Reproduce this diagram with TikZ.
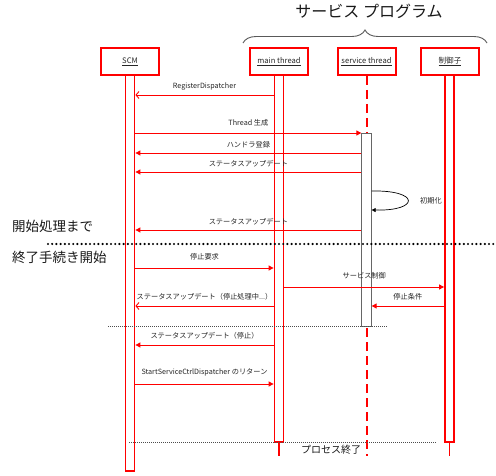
\documentclass[tikz,border=0pt]{standalone}
\usepackage{fontspec}
\setmainfont{Noto Sans CJK JP}
\usetikzlibrary{arrows.meta,calc,decorations.pathreplacing}
\begin{document}
\begin{tikzpicture}[x=1pt,y=-1pt,
  obj/.style={draw=red, line width=2pt, fill=white, minimum width=58pt, minimum height=27pt, inner sep=0pt, font=\fontsize{7.6}{8}\selectfont, text=black!85},
  bar/.style={draw=red, line width=1.8pt, fill=white, minimum width=9pt, inner sep=0pt},
  msg/.style={red, line width=0.9pt, -{Triangle[length=5pt,width=5pt]}},
  ret/.style={red, line width=0.9pt, -{Straight Barb[length=3pt,width=7pt]}},
  lbl/.style={font=\fontsize{7.2}{8}\selectfont, text=black!85, inner sep=0pt},
  big/.style={inner sep=0pt, text=black!90}]
\useasboundingbox (0,0) rectangle (496,476);
\fill[white] (0,0) rectangle (496,476);

% lifelines
\node[bar, minimum height=396pt] (scmb) at (130,273) {};
\node[bar, minimum height=367pt] (mtb) at (279,258.5) {};
\node[bar, minimum height=367pt] (ctlb) at (449.5,258.5) {};
\coordinate (mtend) at (279,456);
\coordinate (ctlend) at (449.5,456);
\draw[red, line width=1.5pt] (mtb.south) -- (mtend);
\draw[red, line width=1.5pt] (ctlb.south) -- (ctlend);

% header boxes
\node[obj] (scm) at (130,61.5) {\underline{SCM}};
\node[obj] (mt) at (279,61.5) {\underline{main thread}};
\node[obj] (st) at (366.5,61.5) {\underline{service thread}};
\node[obj] (ctl) at (450,61.5) {\underline{制御子}};

% service thread dashed lifeline and activation
\coordinate (stend) at (366.5,456);
\draw[red, line width=2pt, dash pattern=on 9pt off 5pt] (st.south) -- (stend);
\node[draw=black!60, line width=0.8pt, fill=white, minimum width=9.5pt, minimum height=193pt, inner sep=0pt] (sta) at (366.5,229.5) {};

% brace and title
\coordinate (brl) at (243,43);
\coordinate (brr) at (487,43);
\draw[black!65, line width=0.9pt, decorate, decoration={brace, amplitude=13pt}] (brl) -- (brr);
\node[big, font=\fontsize{16}{18}\selectfont] (title) at (369,11) {サービス プログラム};

% messages
\draw[ret] (mtb.west |- 0,95) -- node[lbl, above=4.5pt] {RegisterDispatcher} (scmb.east |- 0,95);
\draw[msg] (scmb.east |- 0,133) -- node[lbl, above=6pt] {Thread 生成} (sta.west |- 0,133);
\draw[msg] (sta.west |- 0,153) -- node[lbl, above=4.5pt] {ハンドラ登録} (scmb.east |- 0,153);
\draw[msg] (sta.west |- 0,172) -- node[lbl, above=4.5pt] {ステータスアップデート} (scmb.east |- 0,172);
\draw[black, line width=0.7pt, -{Triangle[length=4pt,width=4pt]}] (sta.east |- 0,191) .. controls (420,190) and (420,211) .. (sta.east |- 0,210);
\node[lbl] (init) at (431,201) {初期化};
\draw[msg] (sta.west |- 0,230) -- node[lbl, above=5pt] {ステータスアップデート} (scmb.east |- 0,230);

% phase separator
\coordinate (dl1) at (48,244);
\coordinate (dl2) at (496,244);
\draw[black, line width=2.4pt, line cap=round, dash pattern=on 0pt off 4.2pt] (dl1) -- (dl2);
\node[big, anchor=west, font=\fontsize{13.5}{16}\selectfont] (startphase) at (12,226) {開始処理まで};
\node[big, anchor=west, font=\fontsize{13.5}{16}\selectfont] (endphase) at (12,257) {終了手続き開始};

\draw[msg] (scmb.east |- 0,268) -- node[lbl, above=7pt] {停止要求} (mtb.west |- 0,268);
\draw[msg] (mtb.east |- 0,287) -- node[lbl, above=7pt] {サービス制御} (ctlb.west |- 0,287);
\draw[ret] (mtb.west |- 0,306) -- node[lbl, above=5pt] {ステータスアップデート（停止処理中...）} (scmb.east |- 0,306);
\draw[msg] (ctlb.west |- 0,306) -- node[lbl, above=5pt] {停止条件} (sta.east |- 0,306);

\coordinate (s1a) at (108,326);
\coordinate (s1b) at (388,326);
\draw[black!70, line width=0.6pt, dash pattern=on 1pt off 1pt] (s1a) -- (s1b);

\draw[msg] (mtb.west |- 0,345) -- node[lbl, above=5pt] {ステータスアップデート（停止）} (scmb.east |- 0,345);
\draw[msg] (scmb.east |- 0,384) -- node[lbl, above=7pt] {StartServiceCtrlDispatcher のリターン} (mtb.west |- 0,384);

\coordinate (s2a) at (129,442);
\coordinate (s2b) at (437,442);
\draw[black!70, line width=0.6pt, dash pattern=on 1pt off 1pt] (s2a) -- (s2b);
\node[big, font=\fontsize{10}{12}\selectfont] (procend) at (331,450) {プロセス終了};
\end{tikzpicture}
\end{document}
